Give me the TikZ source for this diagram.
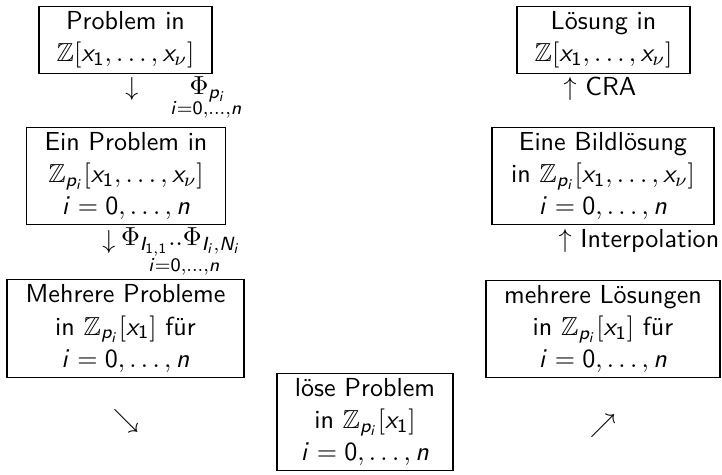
\documentclass[tikz,border=0pt]{standalone}
\usepackage{amssymb}
\usetikzlibrary{positioning}
\renewcommand{\familydefault}{\sfdefault}
% sans serif letters and digits in formulas
\DeclareSymbolFont{sfdigits}{OT1}{cmss}{m}{n}
\DeclareSymbolFont{sfletters}{OT1}{cmss}{m}{it}
\newcommand{\sfletter}[1]{\DeclareMathSymbol{#1}{\mathalpha}{sfletters}{`#1}}
\newcommand{\sfdigit}[1]{\DeclareMathSymbol{#1}{\mathalpha}{sfdigits}{`#1}}
\sfletter{i}\sfletter{n}\sfletter{p}\sfletter{x}\sfletter{I}\sfletter{N}
\sfdigit{0}\sfdigit{1}

\begin{document}
\begin{tikzpicture}[
    x=0.42pt, y=-0.42pt,
    font=\fontsize{10.95}{13.6}\selectfont,
    stage/.style={rectangle, draw=black, line width=0.5pt, align=center, inner xsep=2pt, inner ysep=2pt, minimum width=#1*0.42pt},
    note/.style={inner sep=0pt}
]
\useasboundingbox (0,0) rectangle (722,475);

% Left column
\node[stage=173] (prob) at (125.5,40) {Problem in\\$\mathbb{Z}[x_1,\dots,x_\nu]$};
\node[stage=199] (probp) at (126,176) {Ein Problem in\\$\mathbb{Z}_{p_i}[x_1,\dots,x_\nu]$\\$i=0,\dots,n$};
\node[stage=237] (probs) at (125.5,328.5) {Mehrere Probleme\\in $\mathbb{Z}_{p_i}[x_1]$ für\\$i=0,\dots,n$};

% Bottom
\node[stage=176] (solve) at (365,422) {löse Problem\\in $\mathbb{Z}_{p_i}[x_1]$\\$i=0,\dots,n$};

% Right column
\node[stage=173] (sol) at (603.5,40) {Lösung in\\$\mathbb{Z}[x_1,\dots,x_\nu]$};
\node[stage=222] (solp) at (603,176) {Eine Bildlösung\\in $\mathbb{Z}_{p_i}[x_1,\dots,x_\nu]$\\$i=0,\dots,n$};
\node[stage=234] (sols) at (603,329) {mehrere Lösungen\\in $\mathbb{Z}_{p_i}[x_1]$ für\\$i=0,\dots,n$};

% Steps
\node[note] (down1) at (132,89) {$\downarrow$};
\node[note] (phi1) at (208,89) {$\Phi_{p_i}$};
\node[note] (rng1) at (206,110) {$\scriptstyle i=0,\dots,n$};
\node[note] (down2) at (109,242) {$\downarrow$};
\node[note] (phi2) at (181,242) {$\Phi_{I_{1,1}}..\Phi_{I_i,N_i}$};
\node[note] (rng2) at (184,267) {$\scriptstyle i=0,\dots,n$};
\node[note] (cra) at (600,89) {$\uparrow$ CRA};
\node[note] (interp) at (639,241) {$\uparrow$ Interpolation};
\node[note] (se) at (126,421) {$\searrow$};
\node[note] (ne) at (603,426) {$\nearrow$};

\end{tikzpicture}
\end{document}
